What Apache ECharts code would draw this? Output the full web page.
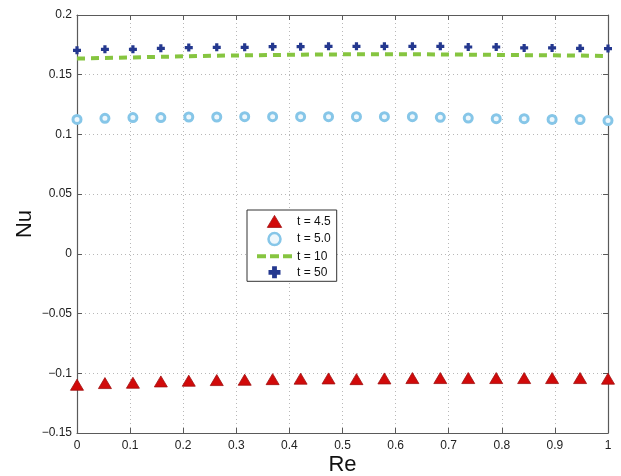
<!DOCTYPE html>
<html>
<head>
<meta charset="utf-8">
<script src="https://cdn.jsdelivr.net/npm/echarts@6/dist/echarts.min.js"></script>
<style>
html,body{margin:0;padding:0;background:#ffffff;}
#chart{width:621px;height:476px;}
</style>
</head>
<body>
<div id="chart"></div>
<script>
// Re values: 20 equally spaced points from 0 to 1
var re = [0, 0.0526, 0.1053, 0.1579, 0.2105, 0.2632, 0.3158, 0.3684, 0.4211, 0.4737,
          0.5263, 0.5789, 0.6316, 0.6842, 0.7368, 0.7895, 0.8421, 0.8947, 0.9474, 1];
var nu45 = [-0.1096, -0.1082, -0.1079, -0.1068, -0.1062, -0.1057, -0.1054, -0.1049, -0.1045, -0.1043,
            -0.1049, -0.1043, -0.1040, -0.1040, -0.1040, -0.1040, -0.1040, -0.1040, -0.1040, -0.1045];
var nu50c = [0.1126, 0.1135, 0.1141, 0.1141, 0.1146, 0.1146, 0.1149, 0.1149, 0.1149, 0.1149,
             0.1149, 0.1149, 0.1149, 0.1143, 0.1137, 0.1132, 0.1132, 0.1126, 0.1124, 0.1116];
var nu10 = [0.1635, 0.1640, 0.1645, 0.1650, 0.1655, 0.1659, 0.1662, 0.1665, 0.1668, 0.1670,
            0.1671, 0.1671, 0.1671, 0.1670, 0.1668, 0.1666, 0.1664, 0.1662, 0.1660, 0.1657];
var nu500 = [0.1704, 0.1713, 0.1713, 0.1721, 0.1727, 0.1729, 0.1729, 0.1735, 0.1735, 0.1738,
             0.1738, 0.1738, 0.1738, 0.1738, 0.1732, 0.1732, 0.1724, 0.1724, 0.1721, 0.1719];
var seriesNames = ['t = 4.5', 't = 5.0', 't = 10', 't = 50'];
var xTicks = ['0', '0.1', '0.2', '0.3', '0.4', '0.5', '0.6', '0.7', '0.8', '0.9', '1'];
var yTicks = ['\u22120.15', '\u22120.1', '\u22120.05', '0', '0.05', '0.1', '0.15', '0.2'];

function pairs(ys) { return re.map(function (x, i) { return [x, ys[i]]; }); }

var font = 'Liberation Sans, Arial, Helvetica, sans-serif';
var axisColor = '#5a5a5a';
var redC = '#d10a0a', ringC = '#86c6e8', greenC = '#86c540', navyC = '#24388f';
var triPath = 'path://M6,0 L12,10 L0,10 Z';
var plusPath = 'path://M3,0 L7,0 L7,3 L10,3 L10,7 L7,7 L7,10 L3,10 L3,7 L0,7 L0,3 L3,3 Z';
var circPath = 'path://M0,5 A5,5 0 1,0 10,5 A5,5 0 1,0 0,5 Z';
var dashPath = 'path://M0,0 H9 V4 H0 Z M13,0 H22 V4 H13 Z M26,0 H35 V4 H26 Z';

var chart = echarts.init(document.getElementById('chart'), null, {renderer: 'canvas'});
chart.setOption({
  backgroundColor: '#ffffff',
  animation: false,
  textStyle: {fontFamily: font},
  grid: {left: 77, right: 13, top: 15, bottom: 43, containLabel: false, outerBoundsMode: 'none'},
  legend: {
    orient: 'vertical',
    left: 247, top: 210,
    symbolKeepAspect: true,
    data: [
      {name: seriesNames[0], icon: triPath, itemStyle: {color: redC, borderColor: '#a01010', borderWidth: 0.8}},
      {name: seriesNames[1], icon: circPath, itemStyle: {color: '#eef7fc', borderColor: ringC, borderWidth: 2.5}},
      {name: seriesNames[2], icon: dashPath, itemStyle: {color: greenC, borderWidth: 0}},
      {name: seriesNames[3], icon: plusPath, itemStyle: {color: navyC, borderWidth: 0}}
    ],
    backgroundColor: '#ffffff',
    borderColor: '#333333',
    borderWidth: 1,
    padding: [5, 6, 3, 10],
    itemGap: 4,
    itemWidth: 35,
    itemHeight: 12,
    textStyle: {fontFamily: font, fontSize: 12, color: '#111'}
  },
  xAxis: [{
    type: 'value', min: 0, max: 1, interval: 0.1,
    name: 'Re', nameLocation: 'middle', nameGap: 21, nameMoveOverlap: false,
    nameTextStyle: {fontSize: 22, color: '#111', fontFamily: font},
    axisLine: {show: true, onZero: false, lineStyle: {color: axisColor, width: 1.2}},
    axisTick: {show: true, inside: true, length: 5, lineStyle: {color: axisColor}},
    axisLabel: {
      fontSize: 12, color: '#222', margin: 7,
      formatter: function (v) { return xTicks[Math.round(v * 10)]; }
    },
    splitLine: {show: true, lineStyle: {color: '#b8b8b8', type: [1, 3], width: 1}}
  }, {
    type: 'value', min: 0, max: 1, interval: 0.1, position: 'top',
    axisLine: {show: true, onZero: false, lineStyle: {color: axisColor, width: 1.2}},
    axisTick: {show: true, inside: true, length: 5, lineStyle: {color: axisColor}},
    axisLabel: {show: false},
    splitLine: {show: false}
  }],
  yAxis: [{
    type: 'value', min: -0.15, max: 0.2, interval: 0.05,
    name: 'Nu', nameLocation: 'middle', nameGap: 41, nameMoveOverlap: false,
    nameTextStyle: {fontSize: 22, color: '#111', fontFamily: font},
    axisLine: {show: true, onZero: false, lineStyle: {color: axisColor, width: 1.2}},
    axisTick: {show: true, inside: true, length: 5, lineStyle: {color: axisColor}},
    axisLabel: {
      fontSize: 12, color: '#222', margin: 5,
      formatter: function (v) { return yTicks[Math.round((v + 0.15) / 0.05)]; }
    },
    splitLine: {show: true, lineStyle: {color: '#b8b8b8', type: [1, 3], width: 1}}
  }, {
    type: 'value', min: -0.15, max: 0.2, interval: 0.05, position: 'right',
    axisLine: {show: true, onZero: false, lineStyle: {color: axisColor, width: 1.2}},
    axisTick: {show: true, inside: true, length: 5, lineStyle: {color: axisColor}},
    axisLabel: {show: false},
    splitLine: {show: false}
  }],
  series: [{
    name: seriesNames[0], type: 'scatter', data: pairs(nu45),
    symbol: 'triangle', symbolSize: [13, 11],
    itemStyle: {color: redC, borderColor: '#a01010', borderWidth: 0.8, opacity: 1}
  }, {
    name: seriesNames[1], type: 'scatter', data: pairs(nu50c),
    symbol: 'circle', symbolSize: 8,
    itemStyle: {color: '#eef7fc', borderColor: ringC, borderWidth: 3, opacity: 1}
  }, {
    name: seriesNames[2], type: 'line', data: pairs(nu10),
    symbol: 'none', showSymbol: false, smooth: false,
    lineStyle: {color: greenC, width: 4, type: [8, 6]},
    itemStyle: {color: greenC}
  }, {
    name: seriesNames[3], type: 'scatter', data: pairs(nu500),
    symbol: plusPath, symbolSize: 8,
    itemStyle: {color: navyC, opacity: 1}
  }]
});
</script>
</body>
</html>
